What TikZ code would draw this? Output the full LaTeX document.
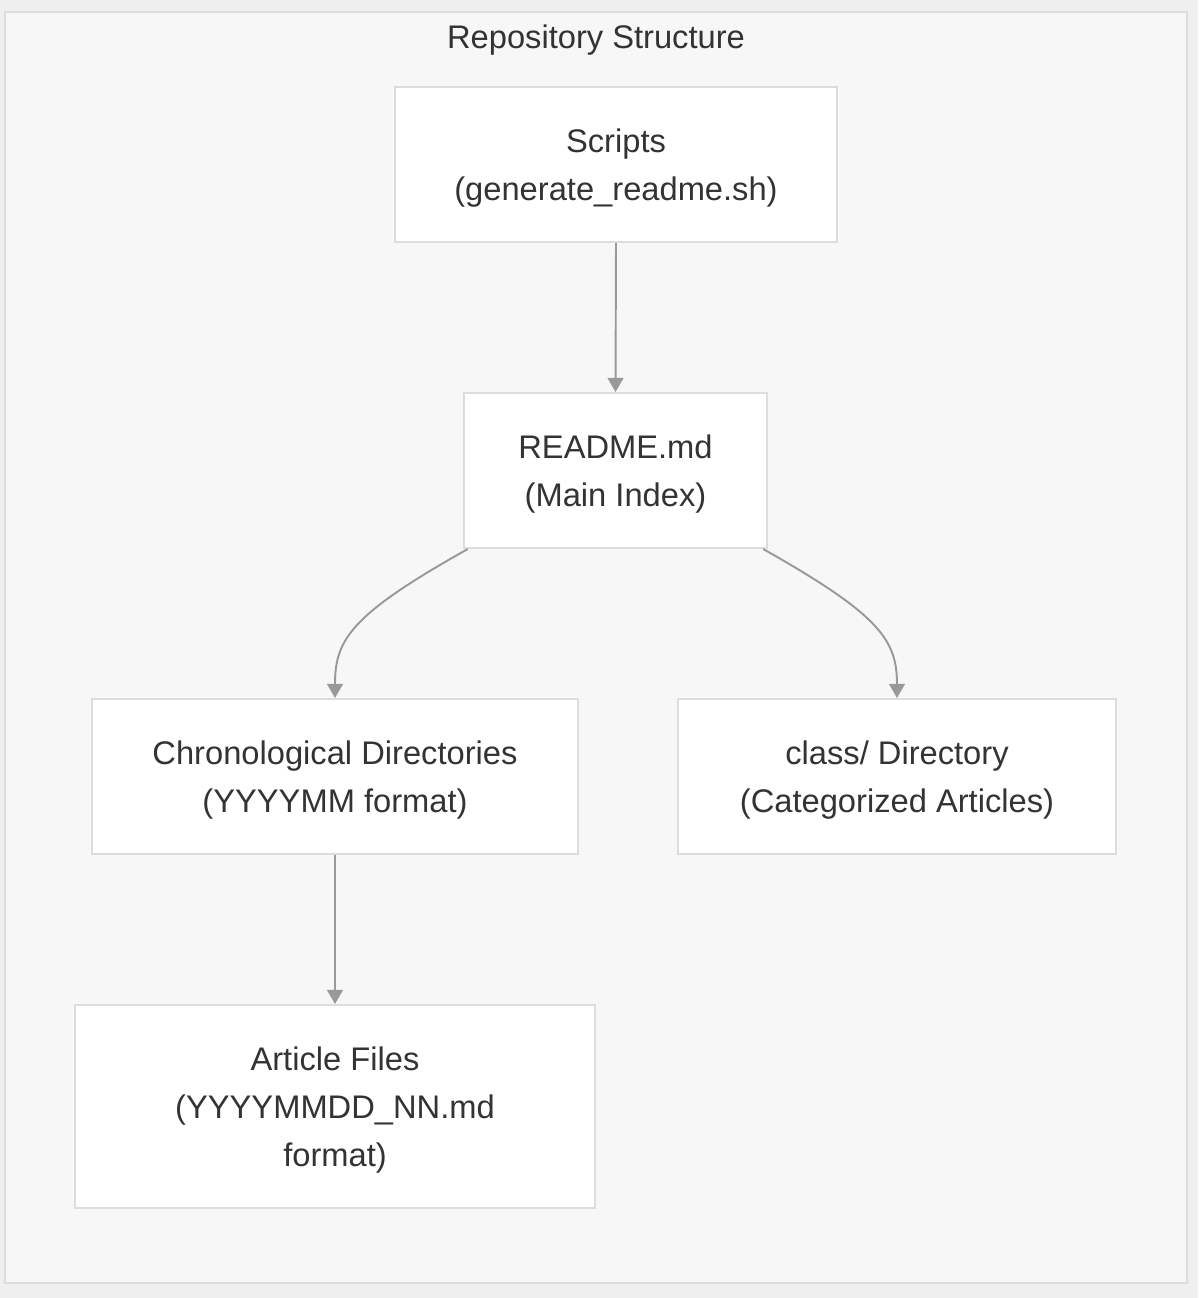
\documentclass[tikz,border=0pt]{standalone}
\usepackage{fontspec}
\setmainfont{Liberation Sans}
\usetikzlibrary{arrows.meta}
\definecolor{pagebg}{HTML}{EFEFEF}
\definecolor{framebg}{HTML}{F7F7F7}
\definecolor{edgegray}{HTML}{DDDDDD}
\definecolor{linegray}{HTML}{999999}
\definecolor{txt}{HTML}{333333}
\begin{document}
\begin{tikzpicture}[x=0.02cm, y=-0.02cm,
  font=\fontsize{18.6}{27.3}\selectfont, text=txt,
  box/.style={draw=edgegray, line width=1.2pt, fill=white, align=center, inner sep=0pt, text depth=-1.5pt},
  link/.style={draw=linegray, line width=1.1pt, -{Triangle[length=8pt,width=9pt]}}]
  % page and frame
  \fill[pagebg] (0,0) rectangle (1198,1298);
  \draw[edgegray, fill=framebg, line width=1.2pt] (5,12) rectangle (1187,1283);
  \node (title) at (596,40) {Repository Structure};
  % boxes
  \node[box, minimum width=8.84cm, minimum height=3.1cm]  (scripts) at (616,164.5)   {Scripts\\(generate\_readme.sh)};
  \node[box, minimum width=6.06cm, minimum height=3.1cm]  (readme)  at (615.5,470.5) {README.md\\(Main Index)};
  \node[box, minimum width=9.72cm, minimum height=3.1cm]  (chrono)  at (335,776.5)   {Chronological Directories\\(YYYYMM format)};
  \node[box, minimum width=8.76cm, minimum height=3.1cm]  (classdir) at (897,776.5)  {class/ Directory\\(Categorized Articles)};
  \node[box, minimum width=10.4cm, minimum height=4.06cm] (article) at (335,1106.5)  {Article Files\\(YYYYMMDD\_NN.md\\format)};
  % links
  \draw[link] (scripts.south) -- (readme.north);
  \draw[link] (readme.208) .. controls (350,615) and (335,640) .. (chrono.north);
  \draw[link] (readme.332) .. controls (880,615) and (897,640) .. (classdir.north);
  \draw[link] (chrono.south) -- (article.north);
\end{tikzpicture}
\end{document}
